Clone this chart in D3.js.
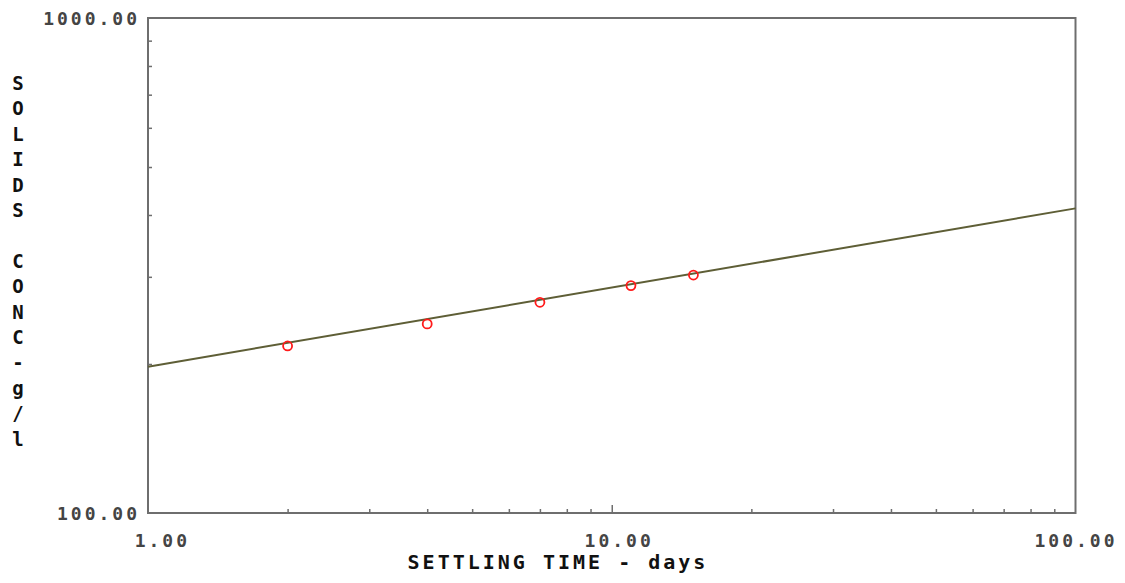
<!DOCTYPE html>
<html><head><meta charset="utf-8">
<script src="https://cdn.jsdelivr.net/npm/d3@7/dist/d3.min.js"></script>
<style>
html,body{margin:0;padding:0;background:#fff;}
svg{display:block;}
</style></head>
<body>
<script>
// Data
const timeDays = [2, 4, 7, 11, 15];
const solidsConc = [217.5, 241, 266.5, 288, 302.5];
const fitTime = [1, 100];
const fitConc = [197.5, 412.5];
const xTickLabels = [1, 10, 100];
const yTickLabels = [100, 1000];
const xLabel = "SETTLING TIME - days";
const yLabelChars = ["S","O","L","I","D","S"," ","C","O","N","C","-","g","/","l"];

const W = 1125, H = 583;
const svg = d3.select("body").append("svg").attr("width", W).attr("height", H);

const x = d3.scaleLog().domain([1, 100]).range([148, 1075.5]);
const y = d3.scaleLog().domain([100, 1000]).range([513, 18]);

const axisColor = "#6e6e6e";
const font = "'DejaVu Sans Mono', monospace";

// minor ticks
const xMinor = [];
for (let d = 1; d < 100; d *= 10) for (let k = 2; k <= 9; k++) xMinor.push(d * k);
const yMinor = [];
for (let k = 2; k <= 9; k++) yMinor.push(100 * k);

// frame
svg.append("rect")
  .attr("x", x.range()[0]).attr("y", y.range()[1])
  .attr("width", x.range()[1] - x.range()[0])
  .attr("height", y.range()[0] - y.range()[1])
  .attr("fill", "none").attr("stroke", axisColor).attr("stroke-width", 2);

// x axis ticks
const gx = svg.append("g").attr("transform", `translate(0,${y.range()[0]})`)
  .call(d3.axisBottom(x).tickValues(xMinor.concat([10])).tickSizeInner(-4).tickSizeOuter(0).tickFormat(""));
gx.select(".domain").remove();
gx.selectAll(".tick line").attr("stroke", axisColor).attr("stroke-width", 1.5)
  .attr("y2", d => d === 10 ? -8 : -4);

// y axis ticks
const gy = svg.append("g").attr("transform", `translate(${x.range()[0]},0)`)
  .call(d3.axisLeft(y).tickValues(yMinor).tickSizeInner(-4).tickSizeOuter(0).tickFormat(""));
gy.select(".domain").remove();
gy.selectAll(".tick line").attr("stroke", axisColor).attr("stroke-width", 1.5);

// x tick labels
svg.append("g").selectAll("text").data(xTickLabels).join("text")
  .attr("x", d => x(d) + 42).attr("y", 547)
  .attr("text-anchor", "end")
  .attr("font-family", font).attr("font-weight", "bold").attr("font-size", 18)
  .attr("letter-spacing", 3).attr("fill", "#444")
  .text(d => d3.format(".2f")(d));

// y tick labels
svg.append("g").selectAll("text").data(yTickLabels).join("text")
  .attr("x", 140).attr("y", d => y(d) + 7)
  .attr("text-anchor", "end")
  .attr("font-family", font).attr("font-weight", "bold").attr("font-size", 18)
  .attr("letter-spacing", 3).attr("fill", "#444")
  .text(d => d3.format(".2f")(d));

// x axis label
svg.append("text")
  .attr("x", 558).attr("y", 569).attr("text-anchor", "middle")
  .attr("font-family", font).attr("font-weight", "bold").attr("font-size", 20)
  .attr("letter-spacing", 3).attr("fill", "#111")
  .text(xLabel);

// y axis label (stacked)
svg.append("g").selectAll("text").data(yLabelChars).join("text")
  .attr("x", 18).attr("y", (d, i) => 90 + i * 25.4)
  .attr("text-anchor", "middle")
  .attr("font-family", font).attr("font-weight", "bold").attr("font-size", 19)
  .attr("fill", "#111")
  .text(d => d);

// fit line
const line = d3.line().x(d => x(d[0])).y(d => y(d[1]));
svg.append("path")
  .datum(fitTime.map((t, i) => [t, fitConc[i]]))
  .attr("d", line)
  .attr("fill", "none").attr("stroke", "#5e5e36").attr("stroke-width", 2);

// data points
svg.append("g").selectAll("circle").data(timeDays.map((t, i) => [t, solidsConc[i]])).join("circle")
  .attr("cx", d => x(d[0])).attr("cy", d => y(d[1])).attr("r", 4.5)
  .attr("fill", "none").attr("stroke", "#ff1a1a").attr("stroke-width", 1.8);
</script>
</body></html>
